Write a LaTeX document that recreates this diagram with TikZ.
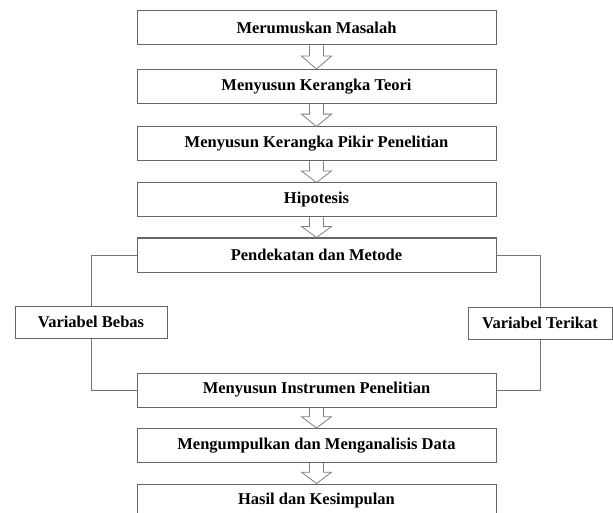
\documentclass[tikz,border=0pt]{standalone}
\usepackage{fontspec}
\setmainfont{Liberation Serif}[BoldFont={Liberation Serif Bold}]
\usetikzlibrary{calc}

\newcommand{\hollowarrow}[2]{%
	\draw[hollow] ($(#1.south)+(-7,0)$) --
		($(#1.south)!0.45!(#2.north)+(-7,0)$) --
		($(#1.south)!0.45!(#2.north)+(-15,0)$) --
		(#2.north) --
		($(#1.south)!0.45!(#2.north)+(15,0)$) --
		($(#1.south)!0.45!(#2.north)+(7,0)$) --
		($(#1.south)+(7,0)$);}

\begin{document}
\begin{tikzpicture}[x=1pt, y=-1pt,
	stage/.style={draw=black!60, line width=1pt, inner sep=0pt,
		minimum width=359pt, minimum height=34pt,
		font=\bfseries\fontsize{16.5}{19}\selectfont, text=black},
	varbox/.style={stage, minimum height=32pt},
	link/.style={draw=black!55, line width=1pt},
	hollow/.style={draw=black!50, line width=0.8pt, line join=miter}]
\useasboundingbox (0, 0) rectangle (613, 513);
\clip (0, 0) rectangle (613, 513);

\node[stage] (masalah) at (316.5, 28) {Merumuskan Masalah};
\node[stage] (teori) at (316.5, 86.5) {Menyusun Kerangka Teori};
\node[stage] (pikir) at (316.5, 144) {Menyusun Kerangka Pikir Penelitian};
\node[stage] (hipotesis) at (316.5, 200) {Hipotesis};
\node[stage] (metode) at (316.5, 255) {Pendekatan dan Metode};
\node[stage] (instrumen) at (316.5, 390) {Menyusun Instrumen Penelitian};
\node[stage] (data) at (316.5, 445.5) {Mengumpulkan dan Menganalisis Data};
\node[stage] (hasil) at (316.5, 501) {Hasil dan Kesimpulan};

\node[varbox, minimum width=152pt] (bebas) at (91, 322) {Variabel Bebas};
\node[varbox, minimum width=144pt] (terikat) at (540, 323) {Variabel Terikat};

\hollowarrow{masalah}{teori}
\hollowarrow{teori}{pikir}
\hollowarrow{pikir}{hipotesis}
\hollowarrow{hipotesis}{metode}
\hollowarrow{instrumen}{data}
\hollowarrow{data}{hasil}

\draw[link] (metode.west) -| (bebas.north);
\draw[link] (bebas.south) |- (instrumen.west);
\draw[link] (metode.east) -| (terikat.north);
\draw[link] (terikat.south) |- (instrumen.east);

\end{tikzpicture}
\end{document}
